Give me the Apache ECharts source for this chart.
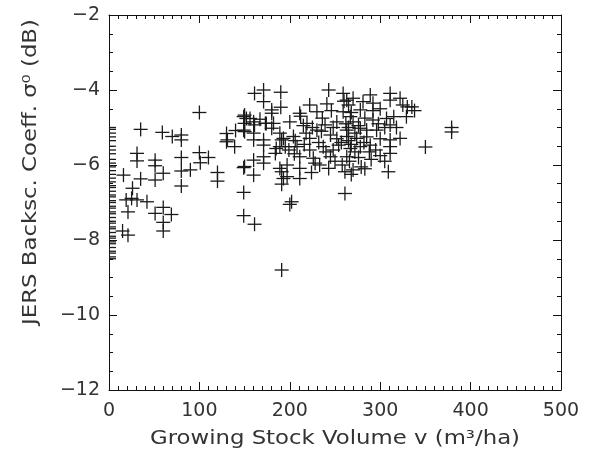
<!DOCTYPE html>
<html>
<head>
<meta charset="utf-8">
<script src="https://cdn.jsdelivr.net/npm/echarts@6/dist/echarts.min.js"></script>
<style>html,body{margin:0;padding:0;background:#fff}#c{width:594px;height:457px}</style>
</head>
<body>
<div id="c"></div>
<script>
// Tick values
const xTicks = [0, 100, 200, 300, 400, 500];
const yTicks = [-12, -10, -8, -6, -4, -2];
const xTitle = 'Growing Stock Volume v (m\u00B3/ha)';
const yTitle = 'JERS Backsc. Coeff. \u03C3\u2070 (dB)';

// Stands with zero growing stock volume (backscatter in dB)
const zeroVolumeY = [-5.0, -5.05, -5.15, -5.25, -5.35, -5.5, -5.6, -5.7, -5.85, -5.95, -6.05, -6.15, -6.25, -6.35,
  -6.45, -6.55, -6.6, -6.7, -6.8, -6.85, -6.95, -7.0, -7.1, -7.15, -7.25, -7.3, -7.4, -7.5, -7.55, -7.65,
  -7.7, -7.8, -7.9, -7.95, -8.05, -8.1, -8.2, -8.3, -8.35, -8.45, -8.5];

// Stands with volume > 0: [volume m3/ha, backscatter dB]
const lowVolume = [[100,-4.6],[35,-5.05],[59,-5.13],[70,-5.24],[80,-5.2],[80,-5.33],[130,-5.16],[140,-5.08],
  [149,-4.71],[149,-5.07],[130,-5.38],[139,-5.51],[31,-5.69],[31,-5.89],[51,-5.87],[51,-6.02],[80,-5.8],
  [100,-5.67],[110,-5.8],[101,-5.94],[90,-6.13],[80,-6.16],[80,-6.56],[60,-6.22],[51,-6.4],[35,-6.37],
  [16,-6.27],[120,-6.2],[120,-6.43],[149,-6.07],[149,-6.73],[149,-7.35],[26,-6.62],[19,-6.93],[25,-6.89],
  [31,-6.93],[42,-6.98],[21,-7.25],[60,-7.13],[51,-7.29],[69,-7.32],[60,-7.53],[60,-7.76],[15,-7.76],[21,-7.87]];

const midVolume = [[150,-4.67],[150,-4.89],[150,-5.11],[156,-4.76],[161,-4.09],[171,-4.0],[171,-4.31],
  [190,-4.06],[190,-4.46],[180,-4.53],[161,-4.93],[173,-4.89],[182,-4.89],[160,-5.33],[171,-5.47],
  [185,-5.56],[191,-5.33],[160,-5.87],[150,-6.04],[160,-6.27],[171,-5.95],[191,-6.18],[191,-6.51],
  [161,-7.58],[191,-8.8],[180,-4.62],[152,-4.76],[160,-4.85],[167,-4.78],[174,-4.89],[180,-5.02],
  [160,-5.15],[171,-5.33],[189,-5.15],[189,-5.51],[184,-5.69],[171,-5.78],[189,-6.09],[193,-6.36],[131,-5.33]];

const highVolume = [[243,-4.0],[259,-4.09],[270,-4.22],[241,-4.37],[222,-4.4],[230,-4.58],[211,-4.62],
  [259,-4.58],[267,-4.71],[278,-4.53],[200,-4.85],[219,-4.89],[239,-4.93],[230,-5.07],[263,-5.07],
  [278,-5.02],[193,-5.29],[204,-5.24],[222,-5.29],[245,-5.2],[263,-5.24],[274,-5.29],[195,-5.51],
  [208,-5.51],[222,-5.6],[237,-5.51],[254,-5.47],[267,-5.56],[278,-5.51],[211,-5.78],[226,-5.82],
  [245,-5.78],[263,-5.78],[197,-6.0],[211,-6.09],[243,-6.09],[261,-6.18],[270,-6.13],[211,-6.36],
  [197,-6.31],[261,-6.76],[202,-6.98],[200,-7.05],
  [215,-4.95],[225,-5.0],[235,-5.1],[248,-5.0],[252,-5.3],[257,-5.4],[265,-5.35],[268,-5.45],[272,-5.65],
  [266,-5.9],[258,-6.0],[250,-5.9],[232,-5.4],[240,-5.65],[228,-5.95],[216,-5.45],[205,-5.7],[199,-5.6],
  [248,-5.6],[262,-4.9],[270,-4.85],[276,-4.95],[265,-4.4],[268,-4.6],[260,-4.3],[272,-5.15],[265,-5.0],
  [276,-5.8],[279,-6.05],[268,-6.25],[224,-6.2],[233,-6.0],[218,-5.15],[206,-5.35],[212,-4.7],[236,-4.75],
  [246,-4.55],[252,-4.85]];

const topVolume = [[289,-4.13],[311,-4.09],[311,-4.27],[322,-4.22],[292,-4.35],[281,-4.31],[263,-4.27],
  [292,-4.8],[307,-4.76],[315,-4.71],[329,-4.71],[285,-5.07],[296,-5.07],[311,-4.93],[311,-5.33],
  [322,-5.29],[289,-5.47],[311,-5.51],[311,-5.69],[309,-6.18],[330,-4.45],[338,-4.55],[350,-5.52],
  [379,-5.0],[379,-5.12],[285,-5.25],[295,-5.6],[300,-5.3],[290,-5.85],[300,-5.75],[283,-6.1],[305,-5.0],
  [318,-5.0],[292,-4.55],[325,-4.4],[335,-4.45],[300,-4.5],[283,-4.75],[298,-4.9],[288,-5.65],[305,-5.9],[282,-5.4]];

const points = zeroVolumeY.map(y => [0, y]).concat(lowVolume, midVolume, highVolume, topVolume);

const FONT = 'DejaVu Sans';
const LABEL_COLOR = '#333';
const fmt = v => (v < 0 ? '\u2212' + Math.abs(v) : String(v));

function axisCommon(extra) {
  return Object.assign({
    axisLine: { show: true, onZero: false, lineStyle: { color: '#111', width: 1 } },
    axisTick: { show: true, inside: true, length: 8, lineStyle: { color: '#111', width: 1 } },
    splitLine: { show: false },
    minorSplitLine: { show: false }
  }, extra);
}

const chart = echarts.init(document.getElementById('c'), null, { renderer: 'canvas' });
chart.setOption({
  animation: false,
  backgroundColor: '#fff',
  grid: { left: 109, right: 33, top: 15, bottom: 67 },
  graphic: [
    {
      type: 'text', x: 335, y: 439, scaleX: 1.2, scaleY: 1.0,
      style: { text: xTitle, font: '19px "DejaVu Sans"', fill: LABEL_COLOR, align: 'center', verticalAlign: 'middle' }
    },
    {
      type: 'text', x: 31, y: 172, rotation: Math.PI / 2, scaleX: 1.2, scaleY: 1.0,
      style: { text: yTitle, font: '19px "DejaVu Sans"', fill: LABEL_COLOR, align: 'center', verticalAlign: 'middle' }
    }
  ],
  xAxis: [
    axisCommon({
      type: 'value', position: 'bottom', min: xTicks[0], max: xTicks[xTicks.length - 1],
      interval: xTicks[1] - xTicks[0],
      minorTick: { show: true, splitNumber: 10, length: 4, lineStyle: { color: '#111', width: 1 } },
      axisLabel: { fontFamily: FONT, fontSize: 19, color: LABEL_COLOR, margin: 12, formatter: fmt }
    }),
    axisCommon({
      type: 'value', position: 'top', min: xTicks[0], max: xTicks[xTicks.length - 1],
      interval: xTicks[1] - xTicks[0],
      minorTick: { show: true, splitNumber: 10, length: 4, lineStyle: { color: '#111', width: 1 } },
      axisLabel: { show: false }
    })
  ],
  yAxis: [
    axisCommon({
      type: 'value', position: 'left', min: yTicks[0], max: yTicks[yTicks.length - 1],
      interval: yTicks[1] - yTicks[0],
      minorTick: { show: true, splitNumber: 4, length: 4, lineStyle: { color: '#111', width: 1 } },
      axisLabel: { fontFamily: FONT, fontSize: 19, color: LABEL_COLOR, margin: 9, formatter: fmt }
    }),
    axisCommon({
      type: 'value', position: 'right', min: yTicks[0], max: yTicks[yTicks.length - 1],
      interval: yTicks[1] - yTicks[0],
      minorTick: { show: true, splitNumber: 4, length: 4, lineStyle: { color: '#111', width: 1 } },
      axisLabel: { show: false }
    })
  ],
  series: [{
    type: 'custom',
    xAxisIndex: 0, yAxisIndex: 0,
    data: points,
    encode: { x: 0, y: 1 },
    renderItem: function (params, api) {
      const p = api.coord([api.value(0), api.value(1)]);
      const cs = params.coordSys;
      const rect = { x: cs.x, y: cs.y, width: cs.width, height: cs.height };
      const half = 7, w = 1.3;
      const h = echarts.graphic.clipRectByRect({ x: p[0] - half, y: p[1] - w / 2, width: half * 2, height: w }, rect);
      const v = echarts.graphic.clipRectByRect({ x: p[0] - w / 2, y: p[1] - half, width: w, height: half * 2 }, rect);
      const children = [];
      if (h) children.push({ type: 'rect', shape: h, style: { fill: '#1a1a1a' } });
      if (v) children.push({ type: 'rect', shape: v, style: { fill: '#1a1a1a' } });
      return { type: 'group', children: children };
    }
  }]
});
</script>
</body>
</html>
